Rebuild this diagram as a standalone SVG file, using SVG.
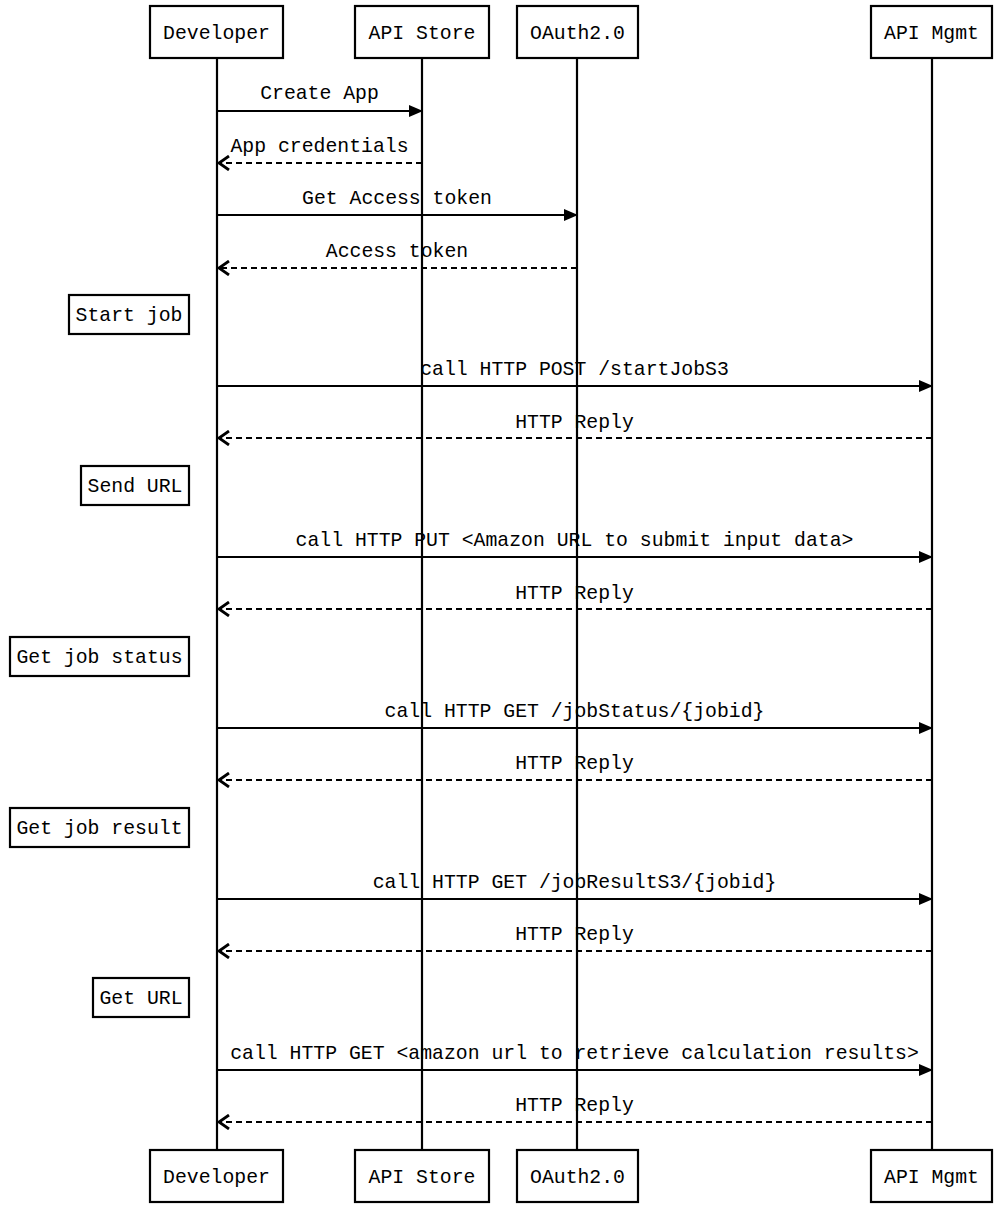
<svg xmlns="http://www.w3.org/2000/svg" width="997" height="1206" viewBox="0 0 997 1206">
<style>
text{font-family:"Liberation Mono","DejaVu Sans Mono",monospace;font-size:19.8px;fill:#000;text-anchor:middle}
.box{fill:#fff;stroke:#000;stroke-width:2.2}
.life{stroke:#000;stroke-width:2.2}
.msg{stroke:#000;stroke-width:2.2;fill:none}
.dash{stroke-dasharray:6,4}
</style>
<defs>
<marker id="solid" markerWidth="14" markerHeight="12" refX="13" refY="6" orient="auto" markerUnits="userSpaceOnUse"><path d="M0,0 L14,6 L0,12 Z" fill="#000"/></marker>
<marker id="open" markerWidth="14" markerHeight="16" refX="11" refY="8" orient="auto" markerUnits="userSpaceOnUse"><path d="M1,1 L11,8 L1,15" fill="none" stroke="#000" stroke-width="2.8"/></marker>
</defs>
<g id="lifelines">
<line class="life" x1="217" y1="58" x2="217" y2="1150"/>
<line class="life" x1="422" y1="58" x2="422" y2="1150"/>
<line class="life" x1="577" y1="58" x2="577" y2="1150"/>
<line class="life" x1="932" y1="58" x2="932" y2="1150"/>
</g>
<g id="p-developer"><rect class="box" x="150" y="6" width="133" height="52"/><text x="216.5" y="39">Developer</text></g>
<g id="p-apistore"><rect class="box" x="355" y="6" width="134" height="52"/><text x="422" y="39">API Store</text></g>
<g id="p-oauth"><rect class="box" x="517" y="6" width="121" height="52"/><text x="577.5" y="39">OAuth2.0</text></g>
<g id="p-apimgmt"><rect class="box" x="871" y="6" width="121" height="52"/><text x="931.5" y="39">API Mgmt</text></g>
<g id="p-developer-b"><rect class="box" x="150" y="1150" width="133" height="52"/><text x="216.5" y="1183">Developer</text></g>
<g id="p-apistore-b"><rect class="box" x="355" y="1150" width="134" height="52"/><text x="422" y="1183">API Store</text></g>
<g id="p-oauth-b"><rect class="box" x="517" y="1150" width="121" height="52"/><text x="577.5" y="1183">OAuth2.0</text></g>
<g id="p-apimgmt-b"><rect class="box" x="871" y="1150" width="121" height="52"/><text x="931.5" y="1183">API Mgmt</text></g>
<g id="note-start"><rect class="box" x="69" y="295" width="120" height="39"/><text x="129" y="321">Start job</text></g>
<g id="note-send"><rect class="box" x="81" y="466" width="108" height="39"/><text x="135" y="492">Send URL</text></g>
<g id="note-status"><rect class="box" x="10" y="637" width="179" height="39"/><text x="99.5" y="663">Get job status</text></g>
<g id="note-result"><rect class="box" x="10" y="808" width="179" height="39"/><text x="99.5" y="834">Get job result</text></g>
<g id="note-url"><rect class="box" x="93" y="978" width="96" height="39"/><text x="141" y="1004">Get URL</text></g>
<g id="connectors">
<line class="msg" x1="217" y1="111" x2="422" y2="111" marker-end="url(#solid)"/>
<text x="319.5" y="99">Create App</text>
<line class="msg dash" x1="422" y1="163" x2="219" y2="163" marker-end="url(#open)"/>
<text x="319.5" y="152">App credentials</text>
<line class="msg" x1="217" y1="215" x2="577" y2="215" marker-end="url(#solid)"/>
<text x="397" y="204">Get Access token</text>
<line class="msg dash" x1="577" y1="268" x2="219" y2="268" marker-end="url(#open)"/>
<text x="397" y="257">Access token</text>
<line class="msg" x1="217" y1="386" x2="932" y2="386" marker-end="url(#solid)"/>
<text x="574.5" y="375">call HTTP POST /startJobS3</text>
<line class="msg dash" x1="932" y1="438" x2="219" y2="438" marker-end="url(#open)"/>
<text x="574.5" y="428">HTTP Reply</text>
<line class="msg" x1="217" y1="557" x2="932" y2="557" marker-end="url(#solid)"/>
<text x="574.5" y="546">call HTTP PUT &lt;Amazon URL to submit input data&gt;</text>
<line class="msg dash" x1="932" y1="609" x2="219" y2="609" marker-end="url(#open)"/>
<text x="574.5" y="599">HTTP Reply</text>
<line class="msg" x1="217" y1="728" x2="932" y2="728" marker-end="url(#solid)"/>
<text x="574.5" y="717">call HTTP GET /jobStatus/{jobid}</text>
<line class="msg dash" x1="932" y1="780" x2="219" y2="780" marker-end="url(#open)"/>
<text x="574.5" y="769">HTTP Reply</text>
<line class="msg" x1="217" y1="899" x2="932" y2="899" marker-end="url(#solid)"/>
<text x="574.5" y="888">call HTTP GET /jobResultS3/{jobid}</text>
<line class="msg dash" x1="932" y1="951" x2="219" y2="951" marker-end="url(#open)"/>
<text x="574.5" y="940">HTTP Reply</text>
<line class="msg" x1="217" y1="1070" x2="932" y2="1070" marker-end="url(#solid)"/>
<text x="574.5" y="1059">call HTTP GET &lt;amazon url to retrieve calculation results&gt;</text>
<line class="msg dash" x1="932" y1="1122" x2="219" y2="1122" marker-end="url(#open)"/>
<text x="574.5" y="1111">HTTP Reply</text>
</g>
</svg>
